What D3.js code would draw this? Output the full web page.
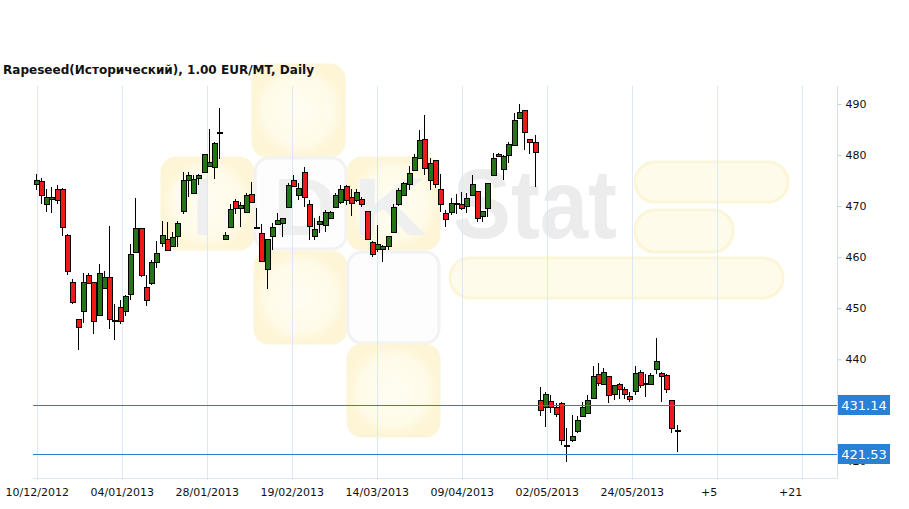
<!DOCTYPE html>
<html><head><meta charset="utf-8">
<script src="https://cdn.jsdelivr.net/npm/d3@7"></script>
<style>body{margin:0;background:#fff} svg{display:block}</style>
</head><body>
<svg id="c" width="909" height="509"></svg>
<script>
const title = "Rapeseed(Исторический), 1.00 EUR/MT, Daily";

const openP = [474.3,475.0,470.4,471.5,473.3,473.3,464.3,455.2,447.8,449.6,
456.6,455.1,448.8,454.1,456.2,447.6,450.2,449.4,452.9,461.1,
465.8,454.1,455.0,459.1,462.7,463.5,462.2,464.0,469.1,475.1,
472.5,475.6,476.8,478.0,477.6,484.6,463.5,465.9,471.0,469.6,
468.9,472.3,466.0,464.8,457.6,464.2,466.6,466.6,469.8,475.1,
472.3,476.6,470.5,464.2,466.6,466.2,467.6,469.9,470.8,473.9,
471.7,471.3,471.3,469.0,463.0,461.5,461.5,462.2,465.0,470.4,
472.2,474.3,477.2,479.4,483.1,475.1,479.0,473.3,468.6,469.0,
470.7,470.4,469.9,472.1,473.0,468.0,469.6,476.1,480.2,477.3,
480.0,482.1,487.3,488.8,483.1,482.5,432.1,430.7,431.9,430.7,
431.4,423.2,424.3,426.0,428.9,429.6,432.3,437.1,435.3,436.8,
433.1,435.1,434.1,432.8,433.8,437.6,435.3,435.1,438.0,437.4,
437.0,432.0,426.2];
const highP = [476.3,475.6,473.3,473.8,474.1,473.5,464.5,455.8,447.8,457.0,
457.0,455.1,458.6,457.3,466.1,450.9,451.6,452.6,462.5,471.5,
465.8,456.5,459.5,463.1,467.1,466.9,465.0,467.1,476.6,476.6,
476.1,476.3,480.3,485.2,482.6,489.3,465.0,470.4,471.3,470.9,
472.6,474.8,469.6,466.5,463.5,466.6,468.6,467.6,474.5,476.1,
474.6,477.6,471.2,467.6,468.0,469.2,469.0,472.6,474.1,474.1,
473.3,473.3,471.8,469.0,463.1,466.3,462.3,464.1,470.4,473.5,
474.8,477.9,480.3,485.0,487.8,479.4,479.0,476.2,469.2,471.5,
472.3,472.8,472.5,476.1,473.0,469.0,474.5,480.4,480.5,480.1,
482.6,488.2,490.1,488.8,483.1,483.9,434.6,433.6,433.1,431.5,
431.7,426.5,429.0,428.8,431.7,433.0,438.6,439.2,438.2,436.8,
434.9,435.4,434.5,433.6,438.6,437.9,437.2,437.4,444.1,437.6,
437.2,432.0,427.1];
const lowP = [473.1,470.5,468.8,468.6,470.4,464.1,456.5,450.9,441.9,447.1,
455.1,444.9,448.8,454.1,446.0,443.7,447.0,448.4,451.6,461.1,
456.1,450.4,454.5,457.8,462.0,461.3,462.0,462.0,468.4,471.8,
472.5,474.1,476.8,477.7,475.3,479.2,463.5,465.9,468.4,466.0,
468.9,470.7,466.0,459.3,453.7,461.4,466.6,464.0,469.8,474.0,
471.2,469.9,463.4,463.3,464.7,465.0,467.4,469.9,470.5,470.2,
468.1,470.9,469.9,463.5,460.1,461.0,459.1,461.4,465.0,470.0,
472.0,473.2,477.0,479.4,476.1,473.2,473.5,468.9,466.0,468.2,
468.4,469.2,468.6,472.1,466.9,466.8,467.9,476.1,479.8,475.1,
478.4,482.1,487.3,481.0,480.2,473.8,428.9,426.8,429.4,428.6,
423.2,419.9,423.8,425.6,428.9,429.6,432.3,434.7,435.3,431.5,
432.0,432.3,432.3,431.7,433.0,434.3,432.6,435.1,437.2,431.7,
433.4,425.5,421.9];
const closeP = [475.1,472.3,471.7,471.8,471.2,465.8,457.2,451.3,446.2,455.2,
455.1,447.4,457.0,456.2,448.0,447.6,447.4,452.3,460.7,465.8,
456.6,451.5,459.1,460.9,464.3,461.4,464.0,466.6,475.1,476.1,
475.3,476.1,480.3,478.7,482.3,484.6,464.3,469.4,469.6,470.2,
472.2,470.7,466.0,459.4,463.5,465.9,467.3,467.6,474.1,474.0,
473.6,471.7,466.1,465.6,467.1,468.8,468.8,472.2,473.3,471.2,
470.5,472.8,470.4,463.5,460.6,462.5,462.1,464.1,469.9,473.2,
474.6,476.4,479.7,482.9,477.4,478.4,474.3,470.4,467.4,470.7,
470.7,469.6,471.5,474.3,467.7,469.0,474.5,479.5,479.8,479.8,
482.1,486.9,488.5,484.4,482.5,480.5,430.2,433.3,430.7,429.4,
424.2,423.2,425.0,428.1,430.6,432.1,436.7,435.3,437.6,433.0,
434.9,434.1,433.1,432.3,437.4,435.1,435.3,436.9,439.6,436.9,
434.3,426.6,426.2];

const yTicks = [420,430,440,450,460,470,480,490];
const xTickLabels = ["10/12/2012","04/01/2013","28/01/2013","19/02/2013","14/03/2013",
  "09/04/2013","02/05/2013","24/05/2013","+5","+21"];
const levelValues = [431.14, 421.53];

// ---- layout ----
const plot = {left:33, right:837, top:86, bottom:478};
const firstGridIdx = 0.23, gridStepIdx = 16.175;
const n = closeP.length;
const data = d3.range(n).map(i => ({i, o:openP[i], h:highP[i], l:lowP[i], c:closeP[i]}));

const x = d3.scaleLinear().domain([0, 122]).range([35.5, 676.6]);
const y = d3.scaleLinear().domain([416.75, 493.53]).range([plot.bottom, plot.top]);

const svg = d3.select("#c");
const FONT = "'DejaVu Sans', Verdana, sans-serif";

// ---- watermark ----
const defs = svg.append("defs");
const rg = defs.append("radialGradient").attr("id","wy");
rg.append("stop").attr("offset","0%").attr("stop-color","#fffdf3");
rg.append("stop").attr("offset","75%").attr("stop-color","#fffbe8");
rg.append("stop").attr("offset","100%").attr("stop-color","#fdf5d6");
const wm = svg.append("g").attr("class","watermark");
const sq = [
  [253,65,"y"],[162,158,"y"],[255,158,"g"],[348,158,"y"],
  [255,252,"y"],[348,252,"g"],[348,345,"y"]
];
sq.forEach(([sx,sy,t]) => {
  wm.append("rect").attr("x",sx).attr("y",sy).attr("width",91).attr("height",91).attr("rx",14)
    .attr("fill", t==="y" ? "url(#wy)" : "#fdfdfd")
    .attr("stroke", t==="y" ? "#fcf5d8" : "#f2f2f2").attr("stroke-width",3);
});
[[635,162,153,40],[635,210,98,42],[450,258,333,40]].forEach(([bx,by,bw,bh]) => {
  wm.append("rect").attr("x",bx).attr("y",by).attr("width",bw).attr("height",bh).attr("rx",20)
    .attr("fill","#fffbea").attr("stroke","#fcf5d8").attr("stroke-width",3);
});
wm.append("text").attr("x",453).attr("y",238).attr("font-family","'Liberation Sans', Arial, sans-serif")
  .attr("font-weight","bold").attr("font-size",98).attr("textLength",164).attr("lengthAdjust","spacingAndGlyphs")
  .attr("fill","#ececec").text("Stat");
[["I",193,19],["D",273,64],["K",353,74]].forEach(([ch,lx,lw]) => {
  wm.append("text").attr("x",lx).attr("y",235).attr("font-family","'Liberation Sans', Arial, sans-serif")
    .attr("font-weight","bold").attr("font-size",82).attr("textLength",lw).attr("lengthAdjust","spacingAndGlyphs")
    .attr("fill","#efefef").text(ch);
});

// ---- title ----
svg.append("text").attr("x",3).attr("y",73.5).attr("font-family",FONT).attr("font-weight","bold")
  .attr("font-size",12).attr("textLength",311).attr("lengthAdjust","spacingAndGlyphs")
  .attr("fill","#111").text(title);

// ---- vertical grid ----
const gridIdx = xTickLabels.map((d,k) => firstGridIdx + k*gridStepIdx);
svg.append("g").selectAll("line").data(gridIdx).join("line")
  .attr("x1", d => Math.round(x(d))+0.5).attr("x2", d => Math.round(x(d))+0.5)
  .attr("y1", plot.top).attr("y2", plot.bottom+2)
  .attr("stroke","#dbe8f5").attr("stroke-width",1);

// bottom line
svg.append("line").attr("x1",plot.left).attr("x2",plot.right).attr("y1",plot.bottom+0.5).attr("y2",plot.bottom+0.5)
  .attr("stroke","#dbe6f0");

// ---- x axis labels ----
const xAxis = d3.axisBottom(x).tickValues(gridIdx).tickSize(0).tickPadding(10)
  .tickFormat((d,k) => xTickLabels[k]);
const gx = svg.append("g").attr("transform",`translate(0,${plot.bottom})`).call(xAxis);
gx.select(".domain").remove();
gx.selectAll("text").attr("font-family",FONT).attr("font-size",11).attr("fill","#111")
  .attr("text-anchor", (d,k) => xTickLabels[k].startsWith("+") ? "end" : "middle");

// ---- y axis (right) ----
// the 430 label sits fully behind the 431.14 marker in the reference, so it is left blank
const hiddenTickLabels = [430];
const yAxis = d3.axisRight(y).tickValues(yTicks).tickSize(4).tickPadding(4)
  .tickFormat(d => hiddenTickLabels.includes(d) ? "" : d3.format("d")(d));
const gy = svg.append("g").attr("transform",`translate(${plot.right+0.5},0)`).call(yAxis);
gy.select(".domain").attr("stroke","#d3e1ee").attr("d",`M0,${plot.top}V${plot.bottom+1}`);
gy.selectAll(".tick line").attr("stroke","#c8d3dc");
gy.selectAll("text").attr("font-family",FONT).attr("font-size",11).attr("fill","#111");

// ---- candles ----
const cg = svg.append("g").attr("shape-rendering","crispEdges");
const up = "#277318", down = "#ee1a1a";
cg.selectAll("line.wick").data(data).join("line").attr("class","wick")
  .attr("x1", d => Math.round(x(d.i))+0.5).attr("x2", d => Math.round(x(d.i))+0.5)
  .attr("y1", d => y(d.h)).attr("y2", d => y(d.l)).attr("stroke","#000");
cg.selectAll("rect.body").data(data).join("rect").attr("class","body")
  .attr("x", d => Math.round(x(d.i))-2).attr("width",5)
  .attr("y", d => Math.round(y(Math.max(d.o,d.c))))
  .attr("height", d => Math.max(1, Math.round(Math.abs(y(d.o)-y(d.c)))))
  .attr("fill", d => d.c > d.o ? up : (d.c < d.o ? down : "#000"))
  .attr("stroke","#000").attr("stroke-width",1);

// ---- level lines ----
const lv = svg.append("g");
lv.selectAll("line").data(levelValues).join("line")
  .attr("x1",plot.left).attr("x2",plot.right)
  .attr("y1", d => Math.round(y(d))+0.5).attr("y2", d => Math.round(y(d))+0.5)
  .attr("stroke","#2a7fd2").attr("stroke-width",1);
lv.selectAll("rect").data(levelValues).join("rect")
  .attr("x",plot.right+1).attr("width",52).attr("y", d => Math.round(y(d))-10).attr("height",20)
  .attr("fill","#2a80d4");
lv.selectAll("text").data(levelValues).join("text")
  .attr("x",plot.right+27).attr("y", d => Math.round(y(d))+5)
  .attr("text-anchor","middle").attr("font-family",FONT).attr("font-size",13).attr("fill","#fff")
  .text(d => d.toFixed(2));
</script>
</body></html>
